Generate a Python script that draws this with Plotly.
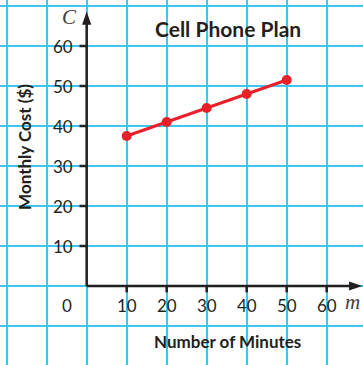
import plotly.graph_objects as go

minutes = [10, 20, 30, 40, 50]
cost = [37.5, 41, 44.5, 48, 51.5]
x_ticks = [10, 20, 30, 40, 50, 60]
y_ticks = [10, 20, 30, 40, 50, 60]
title = "Cell Phone Plan"
x_title = "Number of Minutes"
y_title = "Monthly Cost ($)"

INK = "#231f20"
GRID = "#3ec6f0"
RED = "#e8202a"
SANS = "Lato, 'Open Sans', sans-serif"
SERIF = "'Liberation Serif', 'DejaVu Serif', serif"

W, H = 363, 365
XMIN, XMAX = -21.67, 69.08
YMIN, YMAX = -19.75, 71.5

fig = go.Figure()
fig.add_trace(go.Scatter(
    x=minutes, y=cost, mode="lines+markers",
    line=dict(color=RED, width=3),
    marker=dict(color=RED, size=10),
    showlegend=False, hoverinfo="skip",
))

shapes = []
shapes.append(dict(type="line", x0=0, y0=0, x1=66, y1=0, line=dict(color=INK, width=2.5), layer="above"))
shapes.append(dict(type="line", x0=0, y0=0, x1=0, y1=66, line=dict(color=INK, width=2.5), layer="above"))
tipx = 68.9
shapes.append(dict(type="path", path=f"M {tipx} 0 L {tipx-3.3} 1.15 L {tipx-3.3} -1.15 Z",
                   fillcolor=INK, line=dict(width=0), layer="above"))
tipy = 68.6
shapes.append(dict(type="path", path=f"M 0 {tipy} L 1.15 {tipy-3.3} L -1.15 {tipy-3.3} Z",
                   fillcolor=INK, line=dict(width=0), layer="above"))
for t in y_ticks:
    shapes.append(dict(type="line", x0=-1.8, y0=t, x1=0, y1=t, line=dict(color=INK, width=2.5), layer="above"))
for t in x_ticks:
    shapes.append(dict(type="line", x0=t, y0=-1.6, x1=t, y1=0, line=dict(color=INK, width=2.5), layer="above"))

TICKF = dict(family=SANS, size=17, color=INK)
annotations = []
for t in y_ticks:
    annotations.append(dict(x=-2.9, y=t, text=str(t), showarrow=False, xanchor="right", yanchor="middle",
                            font=TICKF))
for t in x_ticks:
    annotations.append(dict(x=t, y=-4.75, text=str(t), showarrow=False, xanchor="center", yanchor="middle",
                            font=TICKF))
annotations.append(dict(x=-5, y=-4.75, text="0", showarrow=False, xanchor="center", yanchor="middle",
                        font=TICKF))
annotations.append(dict(x=-4.2, y=67.3, text="<i>C</i>", showarrow=False, xanchor="center", yanchor="middle",
                        font=dict(family=SERIF, size=21, color="#404040")))
annotations.append(dict(x=66.5, y=-3.9, text="<i>m</i>", showarrow=False, xanchor="center", yanchor="middle",
                        font=dict(family=SERIF, size=21, color="#404040")))
annotations.append(dict(x=35.3, y=64.5, text=f"<b>{title}</b>", showarrow=False, xanchor="center", yanchor="middle",
                        font=dict(family=SANS, size=21, color=INK)))
annotations.append(dict(x=35.3, y=-13.9, text=f"<b>{x_title}</b>", showarrow=False, xanchor="center", yanchor="middle",
                        font=dict(family=SANS, size=17, color=INK)))
annotations.append(dict(x=-15.4, y=34.8, text=f"<b>{y_title}</b>", showarrow=False, xanchor="center", yanchor="middle",
                        textangle=-90, font=dict(family=SANS, size=17, color=INK)))

fig.update_layout(
    width=W, height=H,
    margin=dict(l=0, r=0, t=0, b=0, pad=0, autoexpand=False),
    paper_bgcolor="white", plot_bgcolor="white",
    xaxis=dict(range=[XMIN, XMAX], tick0=0, dtick=10, showgrid=True, gridcolor=GRID, gridwidth=1.5,
               zeroline=False, showticklabels=False, ticks="", showline=False, fixedrange=True),
    yaxis=dict(range=[YMIN, YMAX], tick0=0, dtick=10, showgrid=True, gridcolor=GRID, gridwidth=1.5,
               zeroline=False, showticklabels=False, ticks="", showline=False, fixedrange=True),
    shapes=shapes,
    annotations=annotations,
)
fig.write_html(
    "out.html",
    config={"displayModeBar": False},
    post_script="document.body.style.margin='0';document.body.style.padding='0';document.body.style.overflow='hidden';document.documentElement.style.overflow='hidden';",
)
